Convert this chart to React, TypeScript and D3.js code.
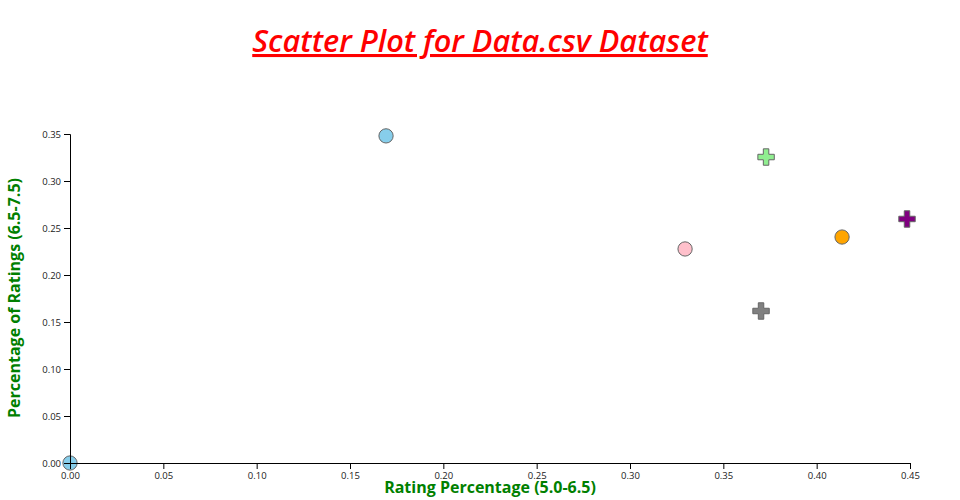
import React, { useEffect, useRef } from "react";
import * as d3 from "d3";

const xValues = [0.0, 0.1693, 0.3295, 0.3729, 0.3702, 0.4136, 0.4484];
const yValues = [0.0, 0.348, 0.2277, 0.3255, 0.1617, 0.2404, 0.2596];
const shapes = ["circle", "circle", "circle", "cross", "cross", "circle", "cross"];
const colors = ["skyblue", "skyblue", "pink", "lightgreen", "gray", "orange", "purple"];
const xTicks = [0, 0.05, 0.1, 0.15, 0.2, 0.25, 0.3, 0.35, 0.4, 0.45];
const yTicks = [0, 0.05, 0.1, 0.15, 0.2, 0.25, 0.3, 0.35];

export default function App() {
  const ref = useRef<SVGSVGElement>(null);
  useEffect(() => {
    const svg = d3.select(ref.current);
    svg.selectAll("*").remove();
    const font = "'Open Sans', sans-serif";
    const x = d3.scaleLinear().domain([0, 0.45]).range([70, 910]);
    const y = d3.scaleLinear().domain([0, 0.35]).range([463, 134]);

    const data = xValues.map((v, i) => ({ x: v, y: yValues[i], s: shapes[i], c: colors[i] }));

    const g = svg.append("g");
    g.selectAll("path.pt")
      .data(data)
      .enter()
      .append("path")
      .attr("class", "pt")
      .attr("transform", (d) => `translate(${x(d.x)},${y(d.y)})`)
      .attr("d", (d) =>
        d3.symbol().type(d.s === "cross" ? d3.symbolCross : d3.symbolCircle).size(d.s === "cross" ? 150 : 160)()
      )
      .attr("fill", (d) => d.c)
      .attr("stroke", "#666")
      .attr("stroke-width", 1);

    const xa = svg
      .append("g")
      .attr("transform", "translate(0,463)")
      .call(d3.axisBottom(x).tickValues(xTicks).tickFormat(d3.format(".2f")));
    const ya = svg
      .append("g")
      .attr("transform", "translate(70,0)")
      .call(d3.axisLeft(y).tickValues(yTicks).tickFormat(d3.format(".2f")));
    [xa, ya].forEach((a) => a.selectAll("text").attr("font-family", font).attr("font-size", 9.5).attr("fill", "#222"));

    svg
      .append("text")
      .attr("x", 490)
      .attr("y", 493)
      .attr("text-anchor", "middle")
      .attr("font-family", font)
      .attr("font-weight", "bold")
      .attr("font-size", 16)
      .attr("fill", "green")
      .text("Rating Percentage (5.0-6.5)");

    svg
      .append("text")
      .attr("transform", "translate(20,298) rotate(-90)")
      .attr("text-anchor", "middle")
      .attr("font-family", font)
      .attr("font-weight", "bold")
      .attr("font-size", 16)
      .attr("fill", "green")
      .text("Percentage of Ratings (6.5-7.5)");

    svg
      .append("text")
      .attr("x", 480)
      .attr("y", 52)
      .attr("text-anchor", "middle")
      .attr("font-family", font)
      .attr("font-weight", 600)
      .attr("font-style", "italic")
      .attr("font-size", 30.7)
      .attr("fill", "red")
      .attr("text-decoration", "underline")
      .text("Scatter Plot for Data.csv Dataset");
  }, []);
  return (
    <svg
      ref={ref}
      width={960}
      height={500}
      style={{ position: "absolute", left: 0, top: 0 }}
    />
  );
}
